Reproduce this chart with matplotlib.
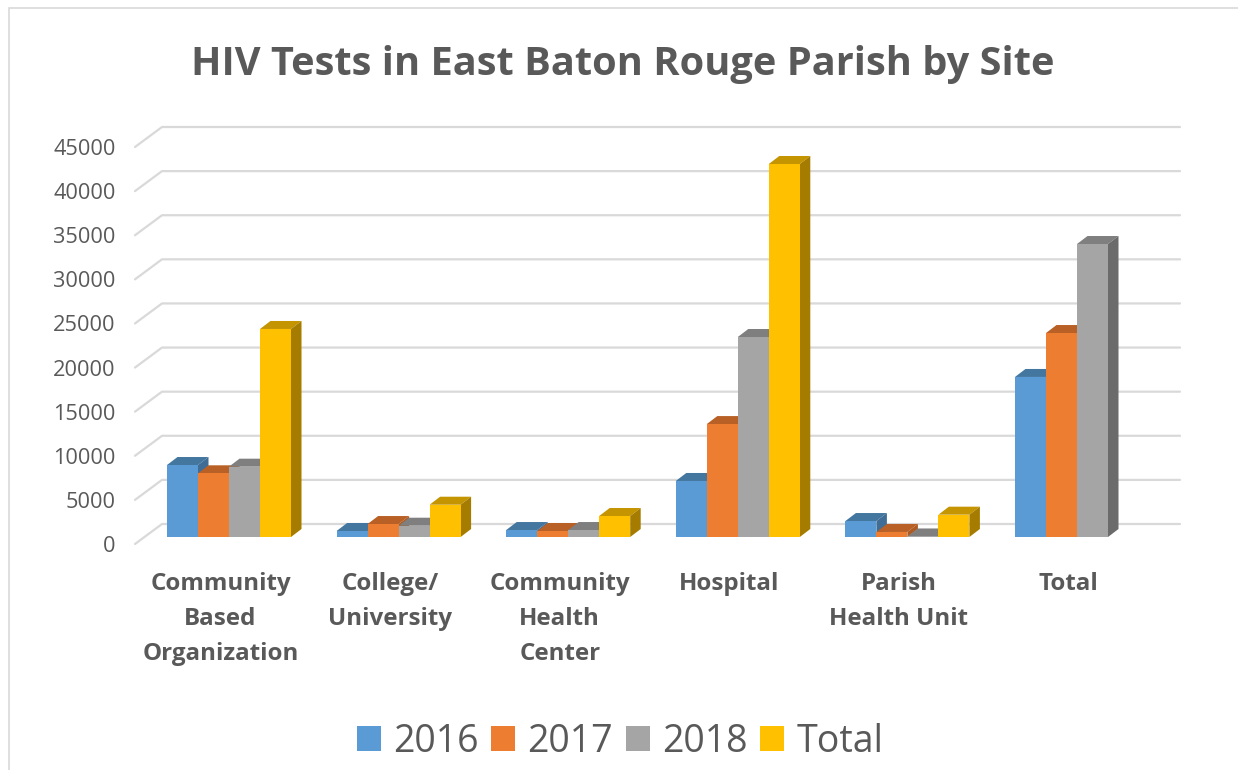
import matplotlib
matplotlib.use("Agg")
import matplotlib.pyplot as plt
from matplotlib.patches import Polygon, Rectangle
from matplotlib.transforms import ScaledTranslation

plt.rcParams["font.family"] = ["Open Sans", "DejaVu Sans"]

CATEGORIES = ["Community\nBased\nOrganization", "College/\nUniversity", "Community\nHealth\nCenter",
              "Hospital", "Parish\nHealth Unit", "Total"]
SERIES = ["2016", "2017", "2018", "Total"]
V_2016 = [8160, 680, 790, 6350, 1810, 18140]
V_2017 = [7220, 1470, 680, 12800, 570, 23120]
V_2018 = [7970, 1280, 790, 22670, 60, 33210]
V_TOTAL = [23580, 3660, 2380, 42280, 2530, None]
VALUES = [V_2016, V_2017, V_2018, V_TOTAL]
TICKS = list(range(0, 45001, 5000))

FRONT = ["#5B9BD5", "#ED7D31", "#A5A5A5", "#FFC000"]
TOP = ["#44779F", "#B86025", "#7F7F7F", "#C49500"]
SIDE = ["#3F6D96", "#AE5A21", "#6B6B6B", "#A67C00"]
GREY_TXT, GRID = "#595959", "#D9D9D9"

W, H = 1238, 770
fig = plt.figure(figsize=(W / 100, H / 100), dpi=100)
fig.add_artist(Rectangle((8.5 / W, -0.1), 1.1, 1.1 - 8.5 / H + 0.0, transform=fig.transFigure,
                         fc="none", ec=GRID, lw=1.2))
# front plane of the bars, in pixels: x 135..1180, y 537 (0) .. 140 (45000)
ax = fig.add_axes([135 / W, (H - 537) / H, (1180 - 135) / W, 397 / H])
GROUP_PX, VAL_PX = 169.6, 397 / 45000
ax.set_xlim((135 - 229) / GROUP_PX, (1180 - 229) / GROUP_PX)
ax.set_ylim(0, 45000)
for s in ax.spines.values():
    s.set_visible(False)

px_x = lambda p: p / GROUP_PX
px_y = lambda p: p / VAL_PX

# wall gridlines with the little diagonal on the left
x0, x1 = ax.get_xlim()
for v in TICKS:
    ax.plot([x0, x0 + px_x(27), x1], [v - px_y(7), v + px_y(13), v + px_y(13)],
            color=GRID, lw=1.6, clip_on=False, zorder=1, solid_capstyle="round")

bar_w = 31 / GROUP_PX
dx, dy = px_x(10.5), px_y(8)
for i, name in enumerate(SERIES):
    vals = VALUES[i]
    xs = [c + (i - 1.5) * bar_w for c, v in enumerate(vals) if v is not None]
    hs = [v for v in vals if v is not None]
    ax.bar(xs, hs, bar_w, color=FRONT[i], label=name, zorder=4)
    for x, h in zip(xs, hs):
        l, r = x - bar_w / 2, x + bar_w / 2
        ax.add_patch(Polygon([(l, h), (l + dx, h + dy), (r + dx, h + dy), (r, h)], fc=TOP[i], ec="none",
                             zorder=2 + i * 0.1, clip_on=False))
        ax.add_patch(Polygon([(r, 0), (r + dx, dy), (r + dx, h + dy), (r, h)], fc=SIDE[i], ec="none",
                             zorder=2 + i * 0.1, clip_on=False))

ax.set_yticks(TICKS)
ax.tick_params(axis="y", length=0, pad=14, labelsize=15.7, labelcolor=GREY_TXT)
shift = ScaledTranslation(0, -7 / 100, fig.dpi_scale_trans)
for lab in ax.get_yticklabels():
    lab.set_transform(lab.get_transform() + shift)

ax.set_xticks(range(len(CATEGORIES)))
ax.set_xticklabels(CATEGORIES, fontsize=17.4, fontweight="bold", color=GREY_TXT, linespacing=1.62)
ax.tick_params(axis="x", length=0, pad=25)
shift_x = ScaledTranslation(-8.5 / 100, 0, fig.dpi_scale_trans)
for lab in ax.get_xticklabels():
    lab.set_transform(lab.get_transform() + shift_x)

fig.text(623 / W, 1 - 64 / H, "HIV Tests in East Baton Rouge Parish by Site", ha="center", va="center",
         fontsize=28.6, fontweight="bold", color=GREY_TXT)
fig.legend(loc="center", bbox_to_anchor=(620 / W, 1 - 742 / H), ncol=4, frameon=False, fontsize=27,
           labelcolor=GREY_TXT, handlelength=0.64, handleheight=0.64, handletextpad=0.33,
           columnspacing=0.33, borderpad=0)
fig.savefig("out.png", dpi=100)
